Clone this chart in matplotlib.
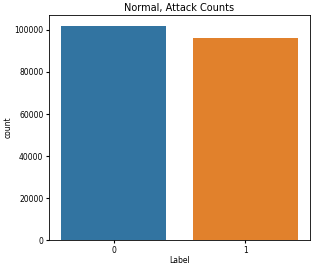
import matplotlib
matplotlib.use("Agg")
import matplotlib.pyplot as plt

# label counts
labels = ["0", "1"]
counts = [102000, 96300]
colors = ["#3274a1", "#e1812c"]

fig = plt.figure(figsize=(3.16, 2.67), dpi=100)
ax = fig.add_axes([0.155, 0.1, 0.826, 0.844])

ax.bar(labels, counts, width=0.8, color=colors)
ax.set_title("Normal, Attack Counts", fontsize=7, pad=3)
ax.set_xlabel("Label", fontsize=5.5, labelpad=1)
ax.set_ylabel("count", fontsize=5.5, labelpad=1)
ax.tick_params(labelsize=5.5, length=2.5, pad=1.5)
for s in ax.spines.values():
    s.set_linewidth(0.6)

fig.savefig("out.png", dpi=100)
